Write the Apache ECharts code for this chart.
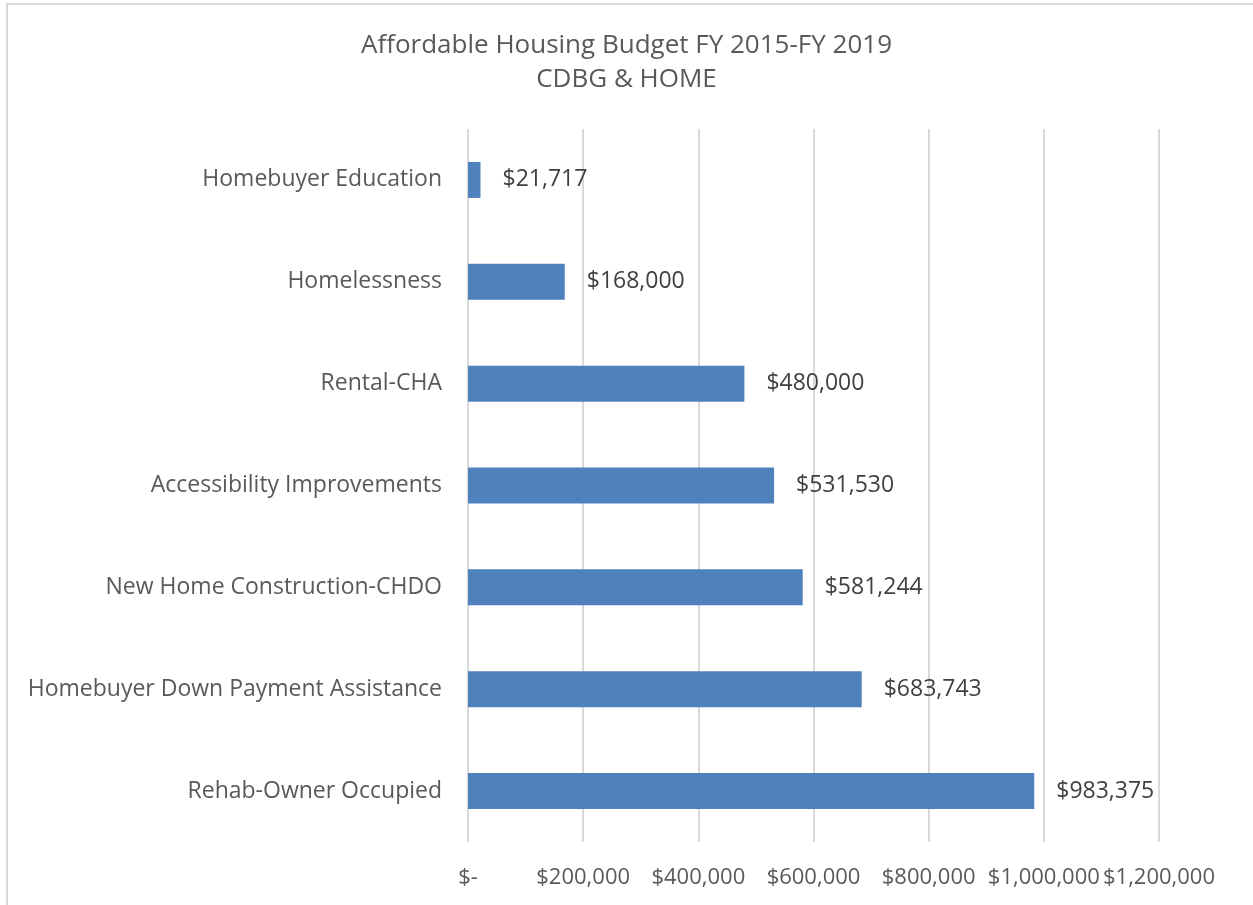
<!DOCTYPE html>
<html>
<head>
<meta charset="utf-8">
<script src="https://cdn.jsdelivr.net/npm/echarts@6/dist/echarts.min.js"></script>
<style>html,body{margin:0;padding:0;background:#fff;}#c{width:1253px;height:905px;}</style>
</head>
<body>
<div id="c"></div>
<script>
const categories = ["Homebuyer Education","Homelessness","Rental-CHA","Accessibility Improvements","New Home Construction-CHDO","Homebuyer Down Payment Assistance","Rehab-Owner Occupied"];
const values = [21717,168000,480000,531530,581244,683743,983375];
const titleLines = ["Affordable Housing Budget FY 2015-FY 2019","CDBG & HOME"];
const FONT = "Open Sans";
function money(v){ return v === 0 ? "$-" : "$" + v.toLocaleString("en-US"); }
const chart = echarts.init(document.getElementById('c'));
chart.setOption({
  backgroundColor: '#fff',
  animation: false,
  textStyle: {fontFamily: FONT},
  graphic: [{type:'rect', shape:{x:7,y:4,width:1300,height:960}, style:{fill:'none', stroke:'#d9d9d9', lineWidth:2}}],
  title: {text: titleLines.join("\n"), left: 'center', top: 24,
    textStyle: {fontFamily: FONT, fontSize: 26, fontWeight: 'normal', color: '#595959', lineHeight: 34}},
  grid: {left: 468, right: 94, top: 129, bottom: 63},
  xAxis: {type:'value', min:0, max:1200000, interval:200000,
    axisLine:{show:false}, axisTick:{show:false},
    splitLine:{lineStyle:{color:'#d9d9d9', width:2}},
    axisLabel:{formatter: money, color:'#595959', fontSize:22, margin:25, fontFamily: FONT,
      hideOverlap:false, showMinLabel:true, showMaxLabel:true}},
  yAxis: {type:'category', data: categories, inverse: true,
    axisLine:{show:false}, axisTick:{show:false},
    axisLabel:{color:'#595959', fontSize:23, margin:26, fontFamily: FONT}},
  series: [{type:'bar', data: values, barWidth: 36,
    itemStyle:{color:'#4F81BD'},
    label:{show:true, position:'right', distance:22, formatter: p => money(p.value), color:'#404040', fontSize:23, fontFamily: FONT}}]
});
</script>
</body>
</html>
